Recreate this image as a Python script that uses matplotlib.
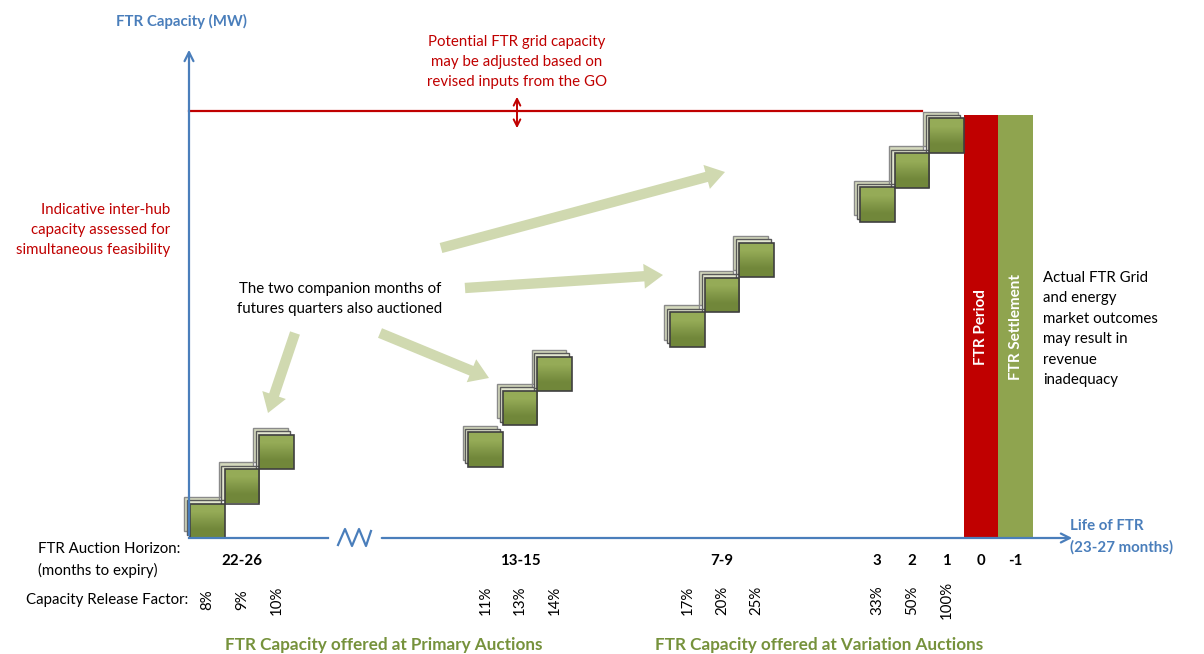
import numpy as np
import matplotlib.pyplot as plt
from matplotlib.patches import FancyArrow
from matplotlib.colors import LinearSegmentedColormap

plt.rcParams['font.family'] = ['Lato', 'DejaVu Sans']

# Data: auction horizon columns, release factors and block capacity levels
horizon_labels = ["22-26", "13-15", "7-9", "3", "2", "1", "0", "-1"]
release_factors = ["8%", "9%", "10%", "11%", "13%", "14%",
                   "17%", "20%", "25%", "33%", "50%", "100%"]
block_levels = [0.0, 1.0, 2.0, 2.06, 3.27, 4.26,
                5.54, 6.55, 7.56, 9.16, 10.15, 11.16]   # capacity below each block
block_size = 1.0
grid_capacity = 12.38
period_top = 12.26
period_labels = ["FTR Period", "FTR Settlement"]

# Layout (x slots of the blocks / bars)
block_x = [0.53, 1.53, 2.53, 8.6, 9.6, 10.6, 14.45, 15.45, 16.45, 19.95, 20.95, 21.95]
bar_x = [22.96, 23.96]

PX = 34.5  # pixels per unit
BLUE = '#4a7ebb'
RED = '#c00000'
OLIVE = '#76923c'
FS = 10.8
LS = 1.58


def P(x, y):
    # pixel position of the reference picture -> data units
    return (x - 189) / PX, (538 - y) / PX


fig = plt.figure(figsize=(12.04, 6.54), dpi=100)
ax = fig.add_axes([0, 0, 1, 1])
ax.axis('off')

# FTR period / settlement bars
bars = ax.bar(bar_x, [period_top] * 2, width=1.0, color=[RED, '#8fa44f'],
              linewidth=0, zorder=2)
for xb, lab in zip(bar_x, period_labels):
    ax.text(xb, P(0, 327)[1], lab, rotation=90, color='white', fontsize=11,
            fontweight='bold', ha='center', va='center', zorder=5)

# Auctioned blocks: two pale copies behind each green block
green = LinearSegmentedColormap.from_list('g', ['#95ab57', '#71873a'])
for dx, dy, fc, ec in [(-0.17, 0.2, '#d5dabd', '#8a8a8a'), (-0.09, 0.1, '#e2e6cf', '#595959')]:
    ax.bar(np.array(block_x) + dx, block_size, bottom=np.array(block_levels) + dy,
           width=block_size, color=fc, edgecolor=ec, linewidth=1, zorder=3)
front = ax.bar(block_x, block_size, bottom=block_levels, width=block_size,
               color='none', edgecolor='#3f3f3f', linewidth=1.2, zorder=5)
for b in front:
    x0, y0 = b.get_x(), b.get_y()
    im = ax.imshow([[0], [1]], cmap=green, extent=[x0, x0 + b.get_width(), y0, y0 + b.get_height()],
                   aspect='auto', interpolation='bilinear', zorder=4)
    im.set_clip_path(b)

# Axes lines
ax.annotate('', xy=(0, P(0, 47)[1]), xytext=(0, 0),
            arrowprops=dict(arrowstyle='->', color=BLUE, lw=1.6, mutation_scale=16), zorder=6)
ax.plot([0, P(328, 0)[0]], [0, 0], color=BLUE, lw=1.6, zorder=6)
zz = [P(338, 545), P(345, 529), P(352, 546), P(359, 529), P(366, 546), P(371, 531)]
ax.plot([p[0] for p in zz], [p[1] for p in zz], color=BLUE, lw=1.6, zorder=6)
ax.annotate('', xy=(P(1075, 0)[0], 0), xytext=(P(379, 0)[0], 0),
            arrowprops=dict(arrowstyle='->', color=BLUE, lw=1.6, mutation_scale=16), zorder=6)

# Grid capacity line with adjustment arrow
ax.plot([0, P(922, 0)[0]], [grid_capacity, grid_capacity], color=RED, lw=1.6, zorder=3)
ax.annotate('', xy=P(517, 94), xytext=P(517, 131),
            arrowprops=dict(arrowstyle='<->', color=RED, lw=1.4, mutation_scale=12))

# Pale pointer arrows
for (x1, y1), (x2, y2) in [((441, 248), (725, 172)), ((465, 288), (663, 275)),
                           ((380, 333), (489, 378)), ((295, 333), (268, 413))]:
    sx, sy = P(x1, y1)
    ex, ey = P(x2, y2)
    ax.add_patch(FancyArrow(sx, sy, ex - sx, ey - sy, width=0.3, head_width=0.72,
                            head_length=0.55, length_includes_head=True,
                            fc='#d0d9b0', ec='none', zorder=2))

# Texts
ax.text(*P(181, 21), 'FTR Capacity (MW)', color=BLUE, fontsize=FS, fontweight='bold',
        ha='center', va='center')
ax.text(*P(517, 62), 'Potential FTR grid capacity\nmay be adjusted based on\nrevised inputs from the GO',
        color=RED, fontsize=FS, ha='center', va='center', linespacing=LS)
ax.text(*P(170, 230), 'Indicative inter-hub\ncapacity assessed for\nsimultaneous feasibility',
        color=RED, fontsize=FS, ha='right', va='center', multialignment='right', linespacing=LS)
ax.text(*P(340, 299), 'The two companion months of\nfutures quarters also auctioned',
        color='black', fontsize=FS, ha='center', va='center', linespacing=LS)
ax.text(*P(1043, 329), 'Actual FTR Grid\nand energy\nmarket outcomes\nmay result in\nrevenue\ninadequacy',
        color='black', fontsize=FS, ha='left', va='center', linespacing=LS)
ax.text(*P(1070, 537), 'Life of FTR\n(23-27 months)', color=BLUE, fontsize=FS,
        fontweight='bold', ha='left', va='center', linespacing=LS)
ax.text(*P(38, 560), 'FTR Auction Horizon:\n(months to expiry)', color='black', fontsize=FS,
        ha='left', va='center', linespacing=LS)
ax.text(*P(188, 600), 'Capacity Release Factor:', color='black', fontsize=FS,
        ha='right', va='center')

# Horizon labels: group centres for the quarters, then single months and bars
horizon_x = [np.mean(block_x[0:3]), np.mean(block_x[3:6]), np.mean(block_x[6:9])] + block_x[9:12] + bar_x
for xh, lab in zip(horizon_x, horizon_labels):
    ax.text(xh, P(0, 561)[1], lab, fontsize=FS, fontweight='bold', ha='center', va='center')
for xr, lab in zip(block_x, release_factors):
    ax.text(xr, P(0, 600)[1], lab, fontsize=FS, rotation=90, ha='center', va='center')

ax.text(*P(384, 645), 'FTR Capacity offered at Primary Auctions', color=OLIVE, fontsize=12.3,
        fontweight='bold', ha='center', va='center')
ax.text(*P(819, 645), 'FTR Capacity offered at Variation Auctions', color=OLIVE, fontsize=12.3,
        fontweight='bold', ha='center', va='center')

ax.set_xlim(-189 / PX, (1204 - 189) / PX)
ax.set_ylim(-(654 - 538) / PX, 538 / PX)

plt.savefig('out.png', dpi=100)
